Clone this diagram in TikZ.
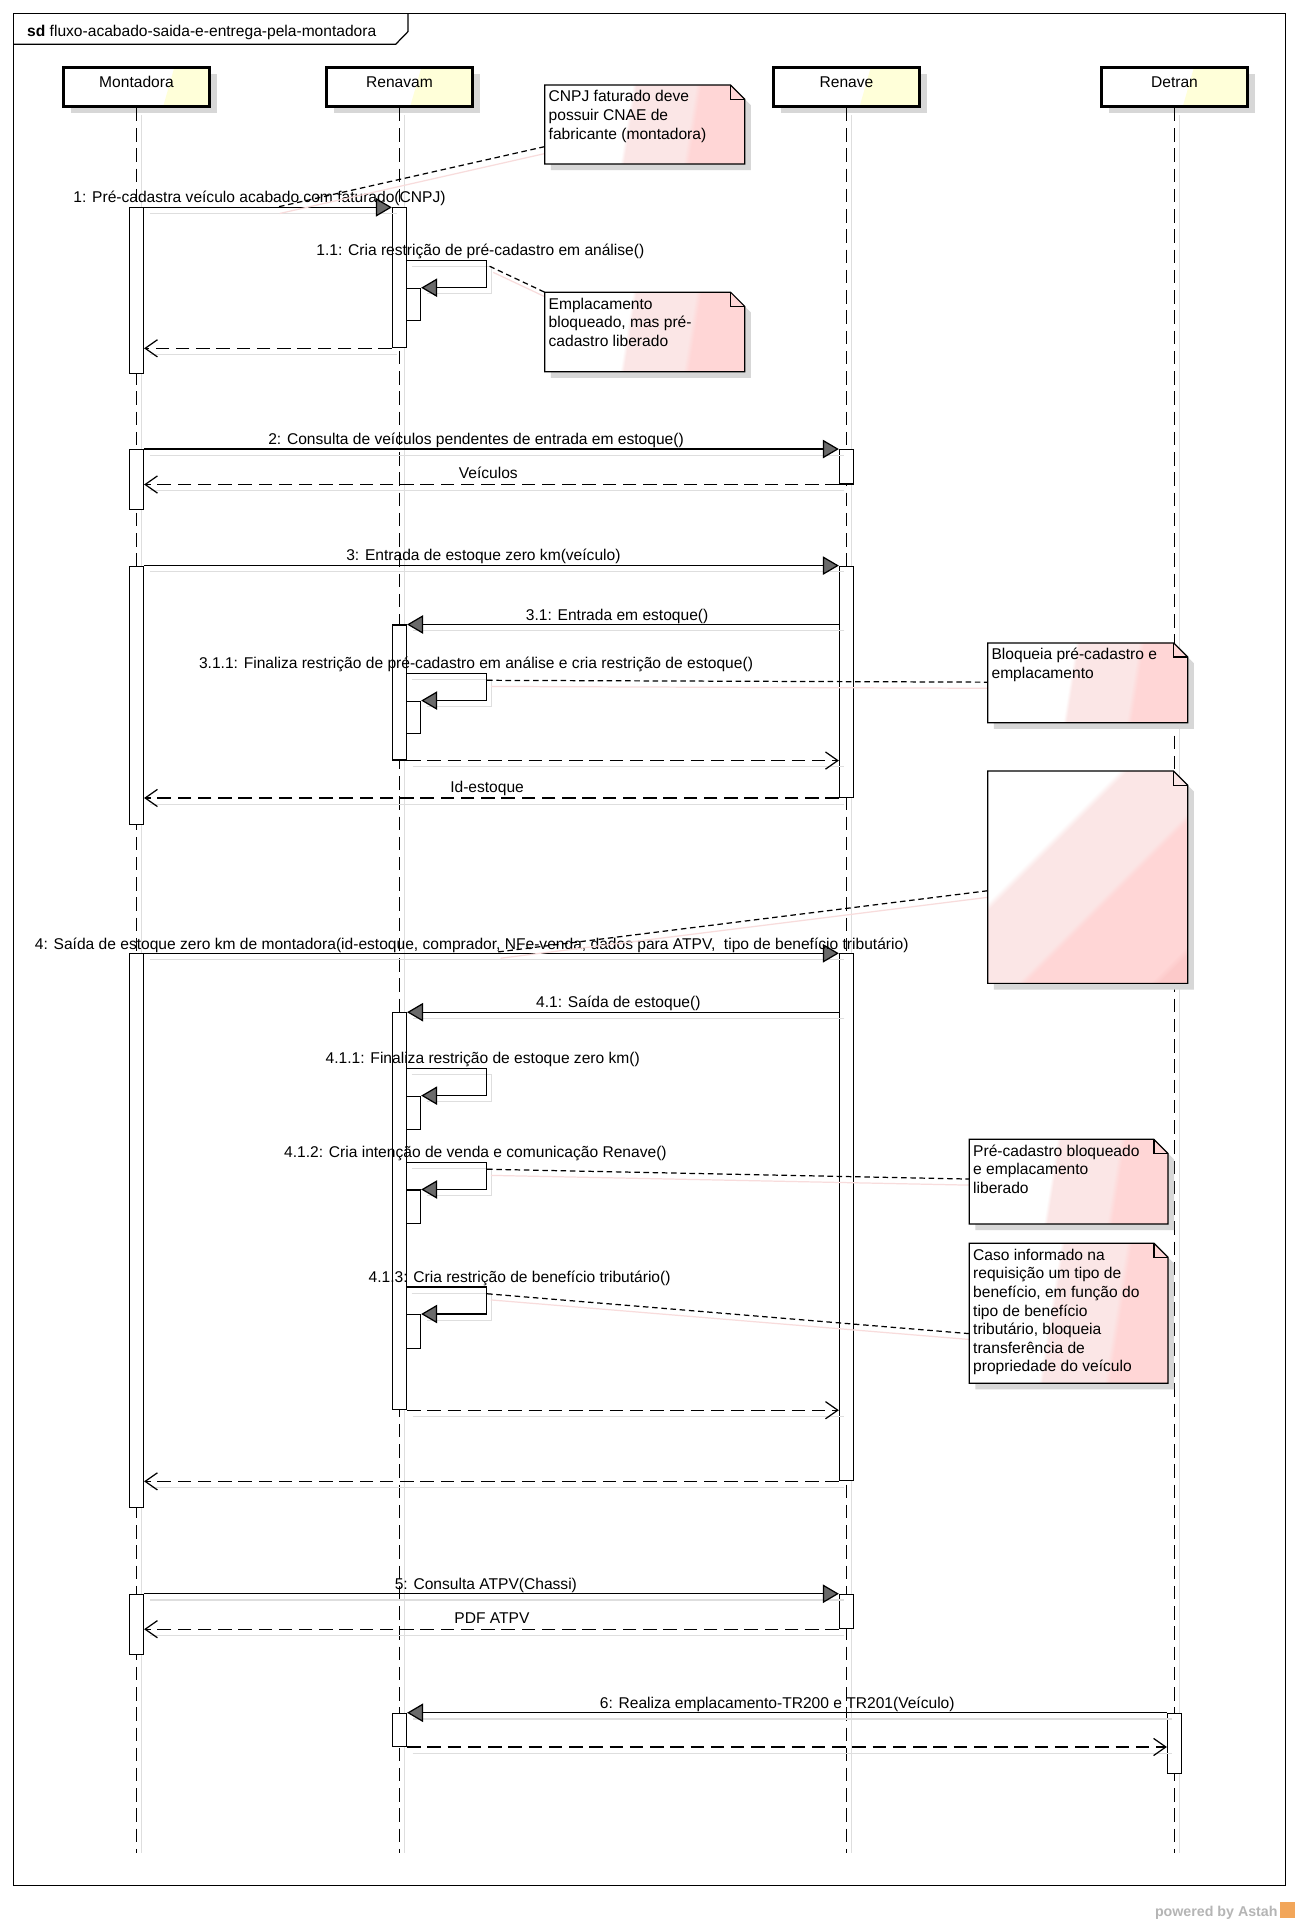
\documentclass[tikz,border=0pt]{standalone}
\usepackage{fontspec}
\setmainfont{Liberation Sans}
\usepackage{xcolor}
\usepackage{tikz}
\usetikzlibrary{arrows.meta,shadows}

\definecolor{headyellow}{HTML}{FFFFD9}
\definecolor{notelight}{HTML}{FBE6E6}
\definecolor{notepink}{HTML}{FFD6D6}
\definecolor{notedeep}{HTML}{FCC9C9}
\definecolor{shadowgray}{HTML}{D7D7D7}
\definecolor{linkpink}{HTML}{F8DCDC}
\definecolor{tipgray}{HTML}{6A6A6A}
\definecolor{footgray}{HTML}{B5B5B5}
\definecolor{astahorange}{HTML}{F2A65A}

\pgfdeclarehorizontalshading{notegrad}{100bp}{color(0bp)=(white); color(45bp)=(white); color(46bp)=(notelight); color(62bp)=(notelight); color(63.5bp)=(notepink); color(85bp)=(notepink); color(100bp)=(notedeep)}
\pgfdeclarehorizontalshading{bignotegrad}{100bp}{color(0bp)=(white); color(37bp)=(white); color(38.5bp)=(notelight); color(56bp)=(notelight); color(57.5bp)=(notepink); color(79bp)=(notepink); color(80.5bp)=(notedeep); color(100bp)=(notedeep)}

\begin{document}
\begin{tikzpicture}[x=1bp, y=-1bp,
    font=\fontsize{12.7bp}{15.2bp}\selectfont,
    lifehead/.style={draw, line width=2.5bp, fill=white, minimum width=118.5bp, minimum height=31.5bp,
        inner sep=0pt, text height=6bp, text depth=6bp,
        drop shadow={shadow xshift=6bp, shadow yshift=-5bp, fill=shadowgray, opacity=1},
        path picture={\fill[headyellow] ([xshift=#1bp]path picture bounding box.north west)
            -- (path picture bounding box.north east) -- (path picture bounding box.south east)
            -- ([xshift=#1bp-9bp]path picture bounding box.south west) -- cycle;}},
    lifeline/.style={line width=1bp, dash pattern=on 11bp off 5.5bp},
    lifeshadow/.style={black!13, line width=1bp},
    actbar/.style={draw, fill=white, line width=0.9bp, minimum width=11.5bp, inner sep=0pt, anchor=north},
    msgshadow/.style={preaction={draw=black!13, line width=1bp, solid, -, transform canvas={shift={(4.5bp,-5bp)}}}},
    callmsg/.style={msgshadow, line width=1bp, -{Triangle[length=13bp, width=15bp, fill=tipgray]}},
    replymsg/.style={msgshadow, line width=1bp, dash pattern=on 11bp off 5.5bp, -{Straight Barb[length=10bp, width=14bp]}},
    msglabel/.style={anchor=base, inner sep=0pt},
    notebox/.style={draw, line width=1bp, shade, shading=notegrad, shading angle=-9,
        drop shadow={shadow xshift=5bp, shadow yshift=-5bp, fill=shadowgray, opacity=1}},
    bignotebox/.style={notebox, shading=bignotegrad, shading angle=-45},
    notefold/.style={line width=1bp},
    notetext/.style={anchor=north west, inner sep=0pt, align=left},
    notelink/.style={line width=1bp, dash pattern=on 4.5bp off 3bp,
        preaction={draw=linkpink, line width=1bp, solid, transform canvas={shift={(3bp,-5bp)}}}}]

    % Page and frame
    \path[use as bounding box, fill=white] (0,0) rectangle (1059.5,1569);
    \draw[line width=1bp] (10.8,10.9) rectangle (1047.8,1536.5);
    \draw[line width=1bp] (10.8,36.1) -- (322.5,36.1) -- (332.5,25.8) -- (332.5,10.9);
    \node[anchor=base west, inner sep=0pt] (title) at (22,29.9) {\textbf{sd} fluxo-acabado-saida-e-entrega-pela-montadora};

    % Lifelines
    \foreach \n/\x/\t/\s in {montadora/111.25/Montadora/90, renavam/325.6/Renavam/77, renave/689.9/Renave/79, detran/957.3/Detran/75} {
        \node[lifehead=\s] (\n) at (\x,71) {\t};
        \coordinate (\n-end) at (\x,1510);
        \draw[lifeshadow] (\x+4,94) -- (\x+4,1510);
        \draw[lifeline] (\n) -- (\n-end);
    }

    % Activation bars
    \foreach \n/\x/\t/\h in {montA/111.25/169/135bp, montB/111.25/366/49bp, montC/111.25/461/210.5bp, montD/111.25/777/451bp, montE/111.25/1299/49bp,
        renavamA/325.6/169/114bp, renavamB/325.6/509/110bp, renavamC/325.6/825/323.5bp, renavamD/325.6/1396/27bp,
        renavamA1/337.1/234.5/26.5bp, renavamB1/337.1/571/26.5bp, renavamC1/337.1/893/27.5bp, renavamC2/337.1/969.5/27.5bp, renavamC3/337.1/1071/28bp,
        renaveA/689.9/366/28bp, renaveB/689.9/461/188.5bp, renaveC/689.9/777/429.5bp, renaveD/689.9/1299/28bp,
        detranA/957.3/1396/49bp} {
        \node[actbar, minimum height=\h] (\n) at (\x,\t) {};
    }

    % 1: Montadora -> Renavam
    \draw[callmsg] (montA.north east) -- (renavamA.north west);
    \node[msglabel] (l1) at (211.5,165) {1: Pré-cadastra veículo acabado com faturado(CNPJ)};
    \draw[callmsg] ([yshift=22bp]renavamA1.north west) -- ++(65.5,0) |- (renavamA1.north east);
    \node[msglabel] (l11) at (391.5,208.5) {1.1: Cria restrição de pré-cadastro em análise()};
    \draw[replymsg] (renavamA.south west) -- (renavamA.south west -| montA.east);

    % 2: Montadora -> Renave
    \draw[callmsg] (montB.north east) -- (renaveA.north west);
    \node[msglabel] (l2) at (388,362.5) {2: Consulta de veículos pendentes de entrada em estoque()};
    \draw[replymsg] (renaveA.south west) -- (renaveA.south west -| montB.east);
    \node[msglabel] (r2) at (398,390) {Veículos};

    % 3: entrada de estoque
    \draw[callmsg] (montC.north east) -- (renaveB.north west);
    \node[msglabel] (l3) at (394,457) {3: Entrada de estoque zero km(veículo)};
    \draw[callmsg] (renavamB.north east -| renaveB.west) -- (renavamB.north east);
    \node[msglabel] (l31) at (503,505.5) {3.1: Entrada em estoque()};
    \draw[callmsg] ([yshift=22bp]renavamB1.north west) -- ++(65.5,0) |- (renavamB1.north east);
    \node[msglabel] (l311) at (388,545) {3.1.1: Finaliza restrição de pré-cadastro em análise e cria restrição de estoque()};
    \draw[replymsg] (renavamB.south east) -- (renavamB.south east -| renaveB.west);
    \draw[replymsg] (renaveB.south west) -- (renaveB.south west -| montC.east);
    \node[msglabel] (r3) at (397,646) {Id-estoque};

    % 4: saida de estoque
    \draw[callmsg] (montD.north east) -- (renaveC.north west);
    \node[msglabel] (l4) at (384.5,773.5) {4: Saída de estoque zero km de montadora(id-estoque, comprador, NFe-venda, dados para ATPV,\ \ tipo de benefício tributário)};
    \draw[callmsg] (renavamC.north east -| renaveC.west) -- (renavamC.north east);
    \node[msglabel] (l41) at (504,821.5) {4.1: Saída de estoque()};
    \draw[callmsg] ([yshift=22bp]renavamC1.north west) -- ++(65.5,0) |- (renavamC1.north east);
    \node[msglabel] (l411) at (393.5,867) {4.1.1: Finaliza restrição de estoque zero km()};
    \draw[callmsg] ([yshift=22bp]renavamC2.north west) -- ++(65.5,0) |- (renavamC2.north east);
    \node[msglabel] (l412) at (387.5,943.5) {4.1.2: Cria intenção de venda e comunicação Renave()};
    \draw[callmsg] ([yshift=22bp]renavamC3.north west) -- ++(65.5,0) |- (renavamC3.north east);
    \node[msglabel] (l413) at (423.5,1045) {4.1.3: Cria restrição de benefício tributário()};
    \draw[replymsg] (renavamC.south east) -- (renavamC.south east -| renaveC.west);
    \draw[replymsg] (renaveC.south west) -- (renaveC.south west -| montD.east);

    % 5: consulta ATPV
    \draw[callmsg] (montE.north east) -- (renaveD.north west);
    \node[msglabel] (l5) at (396,1295.5) {5: Consulta ATPV(Chassi)};
    \draw[replymsg] (renaveD.south west) -- (renaveD.south west -| montE.east);
    \node[msglabel] (r5) at (401,1323) {PDF ATPV};

    % 6: Detran -> Renavam
    \draw[callmsg] (detranA.north west) -- (renavamD.north east);
    \node[msglabel] (l6) at (633.5,1392.5) {6: Realiza emplacamento-TR200 e TR201(Veículo)};
    \draw[replymsg] (renavamD.south east) -- (renavamD.south east -| detranA.west);

    % Note links
    \coordinate (cnpj-pin) at (444,119.5);     \coordinate (m1-pin) at (225,169);
    \coordinate (emplac-pin) at (444,238.2);   \coordinate (l11-pin) at (399,217);
    \coordinate (bloqueia-pin) at (805,556);   \coordinate (l311-pin) at (397,554.5);
    \coordinate (vazia-pin) at (805,726);      \coordinate (m4-pin) at (405,776);
    \coordinate (precad-pin) at (790,961);     \coordinate (l412-pin) at (397,953);
    \coordinate (caso-pin) at (790,1087);      \coordinate (l413-pin) at (397,1054.5);
    \draw[notelink] (cnpj-pin) -- (m1-pin);
    \draw[notelink] (l11-pin) -- (emplac-pin);
    \draw[notelink] (l311-pin) -- (bloqueia-pin);
    \draw[notelink] (vazia-pin) -- (m4-pin);
    \draw[notelink] (l412-pin) -- (precad-pin);
    \draw[notelink] (l413-pin) -- (caso-pin);

    % Notes
    \foreach \xa/\ya/\xb/\yb in {444/69.3/607/133.7, 444/238.2/607/303, 805/524/968/589, 790/928.6/952/997.6, 790/1013.3/952/1127.4} {
        \draw[notebox] (\xa,\ya) -- (\xb-11.5,\ya) -- (\xb,\ya+11.5) -- (\xb,\yb) -- (\xa,\yb) -- cycle;
        \draw[notefold] (\xb-11.5,\ya) |- (\xb,\ya+11.5);
    }
    \draw[bignotebox] (805,628.5) -- (956.5,628.5) -- (968,640) -- (968,801.5) -- (805,801.5) -- cycle;
    \draw[notefold] (956.5,628.5) |- (968,640);

    \node[notetext] (cnpj) at (447,72.2) {\strut CNPJ faturado deve\\possuir CNAE de\\fabricante (montadora)};
    \node[notetext] (emplac) at (447,241.1) {\strut Emplacamento\\bloqueado, mas pré-\\cadastro liberado};
    \node[notetext] (bloqueia) at (808,526.9) {\strut Bloqueia pré-cadastro e\\emplacamento};
    \node[notetext] (precad) at (793,931.5) {\strut Pré-cadastro bloqueado\\e emplacamento\\liberado};
    \node[notetext] (caso) at (793,1016.2) {\strut Caso informado na\\requisição um tipo de\\benefício, em função do\\tipo de benefício\\tributário, bloqueia\\transferência de\\propriedade do veículo};

    % Footer
    \node[anchor=base east, inner sep=0pt, text=footgray, font=\fontsize{11.6bp}{14bp}\selectfont\bfseries] (powered) at (1041.5,1562) {powered by Astah};
    \fill[astahorange] (1043,1550.5) rectangle (1055.5,1563);
\end{tikzpicture}
\end{document}
